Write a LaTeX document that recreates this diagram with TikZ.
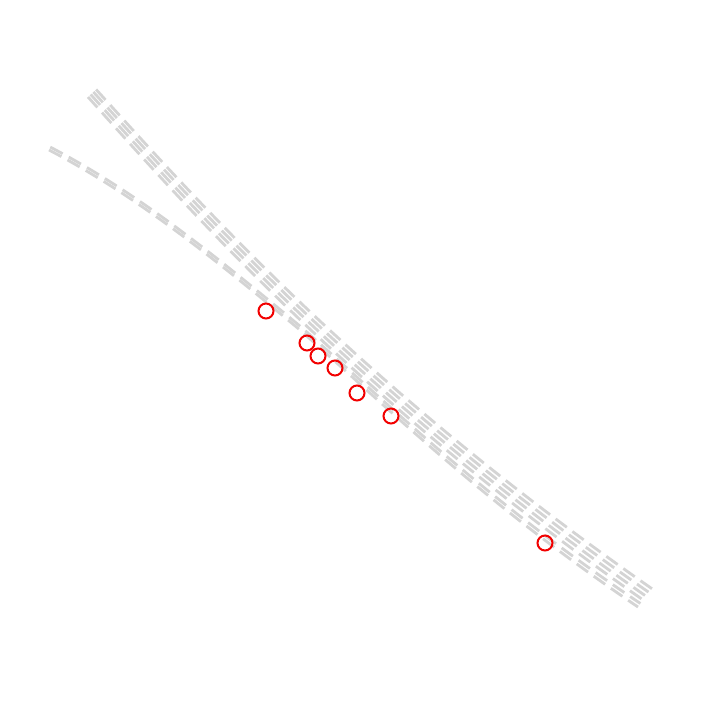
\documentclass[tikz,border=0pt]{standalone}
\usetikzlibrary{calc}
\begin{document}
\begin{tikzpicture}[x=1pt,y=-1pt,
  track/.style={draw=black!17,line width=2.8pt,dash pattern=on 14pt off 7pt},
  obs/.style={circle,draw=red!95!black,line width=2pt,minimum size=15pt,inner sep=0pt}]
\useasboundingbox (0,0) rectangle (701,701);
% upper bundle
\foreach \i in {0,1,2,3}{
  \draw[track] ($(88,97)+\i*(2.7,-2.5)$) .. controls ($(185,205)+\i*(2.8,-2.8)$) and ($(350,395)+\i*(2.8,-3.5)$) .. ($(646,602)+\i*(2.6,-4)$);
}
% left curve
\foreach \i in {0,1}{
  \draw[track] ($(49,150)+\i*(1.3,-2.9)$) .. controls ($(135,195)+\i*(1.5,-2.8)$) and ($(210,255)+\i*(2,-2.2)$) .. ($(300,330)+\i*(2,-2.2)$) .. controls ($(385,405)+\i*(2,-2.2)$) and ($(480,500)+\i*(2,-3)$) .. ($(638,607)+\i*(2.4,-3.5)$);
}
\node[obs] (c1) at (266,311) {};
\node[obs] (c2) at (307,343) {};
\node[obs] (c3) at (318,356) {};
\node[obs] (c4) at (335,368) {};
\node[obs] (c5) at (357,393) {};
\node[obs] (c6) at (391,416) {};
\node[obs] (c7) at (545,543) {};
\end{tikzpicture}
\end{document}
